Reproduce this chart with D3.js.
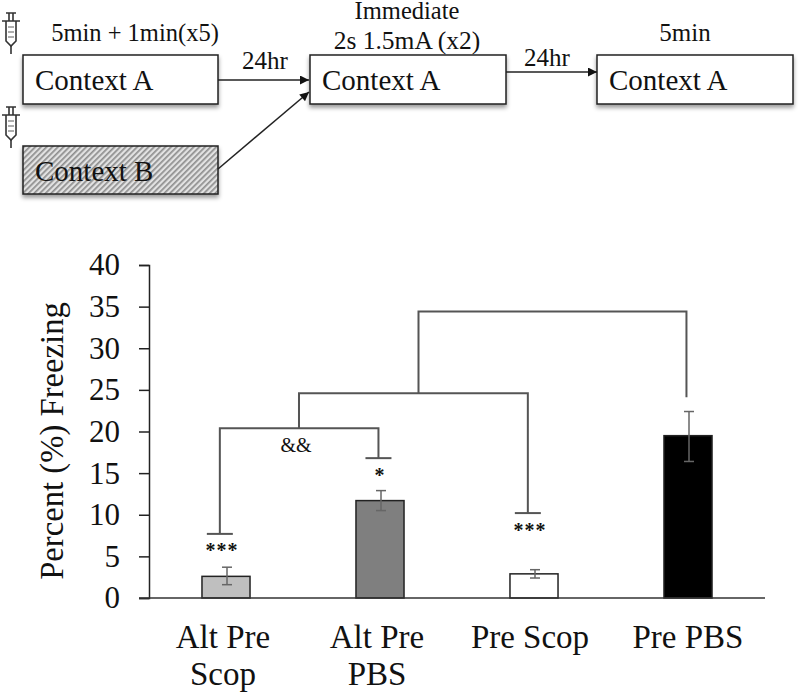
<!DOCTYPE html>
<html>
<head>
<meta charset="utf-8">
<title>Percent Freezing</title>
<style>
html, body { margin: 0; background: #fff; }
svg { display: block; }
text { font-family: "Liberation Serif", serif; fill: #111; }
</style>
<script src="https://d3js.org/d3.v7.min.js"></script>
</head>
<body>
<svg width="800" height="692"></svg>
<script>
// chart values
var categories = ["Alt Pre Scop", "Alt Pre PBS", "Pre Scop", "Pre PBS"];
var categoryLines = [["Alt Pre", "Scop"], ["Alt Pre", "PBS"], ["Pre Scop"], ["Pre PBS"]];
var freezing = [2.6, 11.7, 2.9, 19.5];
var errLow = [1.6, 10.5, 2.4, 16.4];
var errHigh = [3.7, 12.9, 3.4, 22.4];
var barColors = ["#bfbfbf", "#7f7f7f", "#ffffff", "#000000"];
var stars = ["***", "*", "***", ""];
var starLevels = [4.9, 13.9, 7.3, 0];
var yTicks = [0, 5, 10, 15, 20, 25, 30, 35, 40];

// brackets: [left pos, left end, top, right pos, right end], pos = category index
var brackets = [
  [-0.04, 7.7, 20.4, 0.99, 16.8],
  [0.474, 20.4, 24.6, 1.96, 10.2],
  [1.25, 24.6, 34.4, 2.99, 24.1]
];
// caps sit on the ends that stop above a bar
var caps = [[-0.04, 7.7], [0.99, 16.8], [1.96, 10.2]];

// protocol diagram
var boxes = [
  { x: 23, y: 55, w: 195, h: 49, label: "Context A", fill: "#fff" },
  { x: 23, y: 146, w: 195, h: 48, label: "Context B", fill: "url(#hatch)" },
  { x: 310, y: 55, w: 196, h: 49, label: "Context A", fill: "#fff" },
  { x: 597, y: 55, w: 196, h: 49, label: "Context A", fill: "#fff" }
];
var notes = [
  { x: 135, y: 41, t: "5min + 1min(x5)", size: 24.5 },
  { x: 265, y: 69, t: "24hr", size: 25 },
  { x: 407, y: 19, t: "Immediate", size: 24.5 },
  { x: 407, y: 49, t: "2s 1.5mA (x2)", size: 25.5 },
  { x: 547, y: 66, t: "24hr", size: 25 },
  { x: 685, y: 41, t: "5min", size: 25 }
];
var arrows = [
  [218, 80, 309, 80],
  [218, 169, 309, 92],
  [506, 72, 597, 72]
];
var syringes = [[2, 13], [2, 107]];

var svg = d3.select("svg");
var defs = svg.append("defs");

var hatch = defs.append("pattern")
    .attr("id", "hatch")
    .attr("width", 4).attr("height", 4)
    .attr("patternUnits", "userSpaceOnUse")
    .attr("patternTransform", "rotate(45)");
hatch.append("rect").attr("width", 4).attr("height", 4).attr("fill", "#e2e2e2");
hatch.append("rect").attr("width", 1.7).attr("height", 4).attr("fill", "#8e8e8e");

var shadow = defs.append("filter").attr("id", "shadow")
    .attr("x", "-5%").attr("y", "-10%").attr("width", "110%").attr("height", "130%");
shadow.append("feDropShadow")
    .attr("dx", 0).attr("dy", 3).attr("stdDeviation", 2)
    .attr("flood-color", "#000").attr("flood-opacity", 0.4);

defs.append("marker")
    .attr("id", "head")
    .attr("viewBox", "0 0 10 10")
    .attr("refX", 10).attr("refY", 5)
    .attr("markerWidth", 11).attr("markerHeight", 9)
    .attr("markerUnits", "userSpaceOnUse")
    .attr("orient", "auto")
  .append("path")
    .attr("d", "M0,0L10,5L0,10Z")
    .attr("fill", "#111");

// boxes
var box = svg.append("g").selectAll("g").data(boxes).enter().append("g");
box.append("rect")
    .attr("x", function(d) { return d.x; })
    .attr("y", function(d) { return d.y; })
    .attr("width", function(d) { return d.w; })
    .attr("height", function(d) { return d.h; })
    .attr("fill", function(d) { return d.fill; })
    .attr("stroke", "#222")
    .attr("stroke-width", 1.5)
    .attr("filter", "url(#shadow)");
box.append("text")
    .attr("x", function(d) { return d.x + 12; })
    .attr("y", function(d) { return d.y + 35; })
    .attr("font-size", 29)
    .text(function(d) { return d.label; });

svg.append("g").selectAll("line").data(arrows).enter().append("line")
    .attr("x1", function(d) { return d[0]; })
    .attr("y1", function(d) { return d[1]; })
    .attr("x2", function(d) { return d[2]; })
    .attr("y2", function(d) { return d[3]; })
    .attr("stroke", "#222")
    .attr("stroke-width", 1.5)
    .attr("marker-end", "url(#head)");

svg.append("g").selectAll("text").data(notes).enter().append("text")
    .attr("x", function(d) { return d.x; })
    .attr("y", function(d) { return d.y; })
    .attr("text-anchor", "middle")
    .attr("font-size", function(d) { return d.size; })
    .text(function(d) { return d.t; });

// syringe icons
var syr = svg.append("g").selectAll("g").data(syringes).enter().append("g")
    .attr("transform", function(d) { return "translate(" + d[0] + "," + d[1] + ")"; })
    .attr("fill", "none")
    .attr("stroke", "#333")
    .attr("stroke-width", 1.6);
syr.append("path").attr("d", "M4,0H14M0,8H18M7,0V8M11,0V8");
syr.append("path").attr("d", "M4,8V28L9,33L14,28V8");
syr.append("path").attr("d", "M9,33V41");
syr.append("path").attr("d", "M6,14H12M6,19H12M6,24H12").attr("stroke-width", 0.8);

// bar chart
var x = d3.scaleBand()
    .domain(categories)
    .range([149, 765])
    .paddingInner(0.688)
    .paddingOuter(0.344);

var pos = d3.scaleLinear()
    .domain([0, 3])
    .range([x(categories[0]) + x.bandwidth() / 2, x(categories[3]) + x.bandwidth() / 2]);

var y = d3.scaleLinear()
    .domain([0, 40])
    .range([598, 265]);

var yAxis = svg.append("g")
    .attr("transform", "translate(149,0)")
    .call(d3.axisLeft(y).tickValues(yTicks).tickSize(10).tickPadding(19).tickFormat(d3.format("d")));
yAxis.selectAll("path, line").attr("stroke", "#222").attr("stroke-width", 1.5);
yAxis.selectAll("text")
    .attr("font-family", "Liberation Serif")
    .attr("font-size", 31)
    .attr("fill", "#111");

svg.append("g").selectAll("rect").data(categories).enter().append("rect")
    .attr("x", function(d) { return x(d); })
    .attr("y", function(d, i) { return y(freezing[i]); })
    .attr("width", x.bandwidth())
    .attr("height", function(d, i) { return y(0) - y(freezing[i]); })
    .attr("fill", function(d, i) { return barColors[i]; })
    .attr("stroke", "#222")
    .attr("stroke-width", 1.5);

// x axis baseline
svg.append("line")
    .attr("x1", 139).attr("x2", 765)
    .attr("y1", y(0)).attr("y2", y(0))
    .attr("stroke", "#333")
    .attr("stroke-width", 1.5);

// error bars
var err = svg.append("g").selectAll("g").data(categories).enter().append("g")
    .attr("stroke", "#666")
    .attr("stroke-width", 1.5);
err.append("line")
    .attr("x1", function(d, i) { return pos(i) + 1; })
    .attr("x2", function(d, i) { return pos(i) + 1; })
    .attr("y1", function(d, i) { return y(errLow[i]); })
    .attr("y2", function(d, i) { return y(errHigh[i]); });
[errLow, errHigh].forEach(function(arr) {
  err.append("line")
      .attr("x1", function(d, i) { return pos(i) - 4; })
      .attr("x2", function(d, i) { return pos(i) + 6; })
      .attr("y1", function(d, i) { return y(arr[i]); })
      .attr("y2", function(d, i) { return y(arr[i]); });
});

// significance brackets
var bracketLine = function(b) {
  return "M" + pos(b[0]) + "," + y(b[1]) + "V" + y(b[2]) + "H" + pos(b[3]) + "V" + y(b[4]);
};
svg.append("g").selectAll("path").data(brackets).enter().append("path")
    .attr("d", bracketLine)
    .attr("fill", "none")
    .attr("stroke", "#555")
    .attr("stroke-width", 2);
svg.append("g").selectAll("line").data(caps).enter().append("line")
    .attr("x1", function(d) { return pos(d[0]) - 13; })
    .attr("x2", function(d) { return pos(d[0]) + 13; })
    .attr("y1", function(d) { return y(d[1]); })
    .attr("y2", function(d) { return y(d[1]); })
    .attr("stroke", "#555")
    .attr("stroke-width", 2);

svg.append("g").selectAll("text").data(categories).enter().append("text")
    .attr("x", function(d, i) { return pos(i) - (i == 1 ? 0 : 4); })
    .attr("y", function(d, i) { return y(starLevels[i]); })
    .attr("text-anchor", "middle")
    .attr("font-size", 20)
    .attr("font-weight", "bold")
    .attr("letter-spacing", 1)
    .attr("font-family", "Liberation Sans")
    .text(function(d, i) { return stars[i]; });

svg.append("text")
    .attr("x", 296).attr("y", 452)
    .attr("text-anchor", "middle")
    .attr("font-family", "Liberation Sans")
    .attr("font-size", 20)
    .text("&&");

// category labels
var labelShift = [-3, -3, -4, 0];
var labels = svg.append("g").selectAll("text").data(categories).enter().append("text")
    .attr("text-anchor", "middle")
    .attr("font-size", 33)
    .attr("y", 648);
labels.selectAll("tspan")
    .data(function(d, i) { return categoryLines[i].map(function(t) { return { t: t, i: i }; }); })
    .enter().append("tspan")
    .attr("x", function(d) { return pos(d.i) + labelShift[d.i]; })
    .attr("dy", function(d, k) { return k ? 37 : 0; })
    .text(function(d) { return d.t; });

svg.append("text")
    .attr("transform", "translate(63,441) rotate(-90)")
    .attr("text-anchor", "middle")
    .attr("font-size", 32.7)
    .text("Percent (%) Freezing");
</script>
</body>
</html>
